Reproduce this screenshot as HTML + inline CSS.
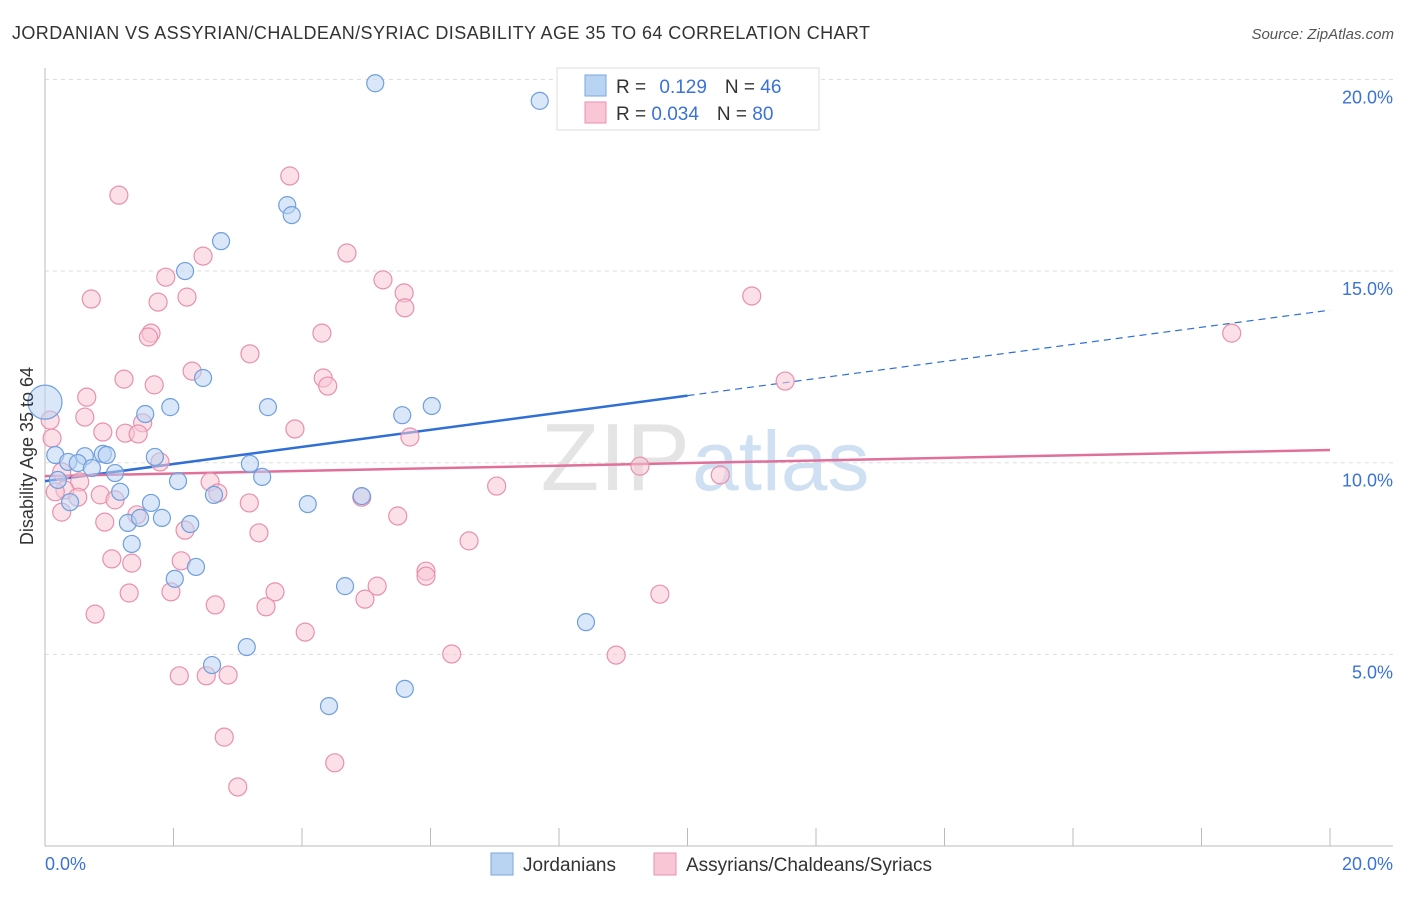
<!DOCTYPE html>
<html><head><meta charset="utf-8"><style>
body{margin:0;background:#fff;font-family:"Liberation Sans",sans-serif}
svg text{font-family:"Liberation Sans",sans-serif}
</style></head><body>
<svg id="chart" width="1406" height="892" xmlns="http://www.w3.org/2000/svg">
<text x="12" y="39" font-size="18" fill="#333" textLength="858" lengthAdjust="spacing">JORDANIAN VS ASSYRIAN/CHALDEAN/SYRIAC DISABILITY AGE 35 TO 64 CORRELATION CHART</text>
<text x="1394" y="39" font-size="15" fill="#555" font-style="italic" text-anchor="end">Source: ZipAtlas.com</text>
<text x="690" y="490" font-size="96" fill="#e4e4e4" text-anchor="end" font-family="Liberation Serif">ZIP</text>
<text x="692" y="490" font-size="84" fill="#cfe0f3">atlas</text>
<g id="grid"></g><g id="axes"></g><g id="lines"></g><g id="pts"></g>
<text transform="translate(33,456) rotate(-90)" font-size="18" fill="#333" text-anchor="middle">Disability Age 35 to 64</text>
<text x="45" y="870" font-size="18" fill="#3a72d8">0.0%</text>
<text x="1393" y="870" font-size="18" fill="#3a72d8" text-anchor="end">20.0%</text>
<g>
<rect x="557" y="68" width="262" height="62" fill="#fff" stroke="#ddd"/>
<rect x="585" y="75" width="21" height="21" fill="#b9d3f3" stroke="#7aa7e0"/>
<rect x="585" y="102" width="21" height="21" fill="#f8c6d5" stroke="#e890ae"/>
<text x="616" y="93" font-size="19" fill="#333">R = <tspan fill="#3a72d8" dx="8">0.129</tspan><tspan dx="18">N = </tspan><tspan fill="#3a72d8">46</tspan></text>
<text x="616" y="120" font-size="19" fill="#333">R = <tspan fill="#3a72d8">0.034</tspan><tspan dx="18">N = </tspan><tspan fill="#3a72d8">80</tspan></text>
</g>
<g>
<rect x="491" y="853" width="22" height="22" fill="#b9d3f3" stroke="#7aa7e0"/>
<text x="523" y="871" font-size="19" fill="#333">Jordanians</text>
<rect x="654" y="853" width="22" height="22" fill="#f8c6d5" stroke="#e890ae"/>
<text x="686" y="871" font-size="19" fill="#333">Assyrians/Chaldeans/Syriacs</text>
</g>
</svg>
<script>
const yTicks=[5,10,15,20];
const yTickLabels=["5.0%","10.0%","15.0%","20.0%"];
const xTicks=[0,2,4,6,8,10,12,14,16,18,20];
const blueX=[5.14,7.70,3.77,3.84,2.74,2.18,2.46,1.95,3.47,6.02,5.56,1.56,0.16,0.62,0.90,0.96,0.36,0.51,0.73,1.09,1.71,3.19,3.38,2.07,0.2,1.17,2.63,4.93,0.39,1.65,4.09,1.29,1.48,1.82,2.26,1.35,2.35,2.02,4.67,8.42,3.14,2.6,5.6,4.42];
const blueY=[19.9,19.44,16.72,16.46,15.78,15.0,12.21,11.45,11.45,11.48,11.24,11.27,10.2,10.17,10.23,10.2,10.02,9.99,9.86,9.73,10.15,9.97,9.63,9.52,9.55,9.24,9.16,9.13,8.97,8.95,8.92,8.43,8.56,8.56,8.4,7.88,7.28,6.97,6.78,5.84,5.19,4.72,4.10,3.65];
const bigBlue=[0,11.58];
const pinkX=[1.15,3.81,4.70,2.46,1.88,5.26,0.72,1.76,2.21,5.59,5.60,11.0,18.47,4.31,1.65,1.61,3.19,2.29,1.23,1.70,4.33,4.40,11.52,0.65,0.62,0.08,1.52,0.90,1.25,1.45,3.89,5.68,0.11,1.79,9.26,10.51,0.26,0.54,7.03,2.57,0.31,0.16,0.86,2.69,1.09,0.51,3.18,4.93,0.26,5.49,0.93,1.43,2.18,3.33,6.60,1.04,2.12,1.35,5.93,5.93,5.17,1.96,3.58,1.31,9.57,4.98,3.44,2.65,0.78,4.05,6.33,8.89,2.09,2.51,2.85,2.79,4.51,3.00];
const pinkY=[16.98,17.48,15.47,15.39,14.84,14.77,14.27,14.19,14.32,14.43,14.04,14.35,13.38,13.38,13.38,13.28,12.84,12.39,12.18,12.03,12.21,12.0,12.13,11.71,11.19,11.11,11.04,10.8,10.77,10.75,10.88,10.67,10.64,10.02,9.91,9.68,9.76,9.5,9.39,9.5,9.29,9.24,9.16,9.21,9.03,9.1,8.95,9.1,8.71,8.61,8.45,8.64,8.24,8.17,7.96,7.49,7.44,7.38,7.17,7.04,6.78,6.63,6.63,6.6,6.57,6.44,6.24,6.29,6.05,5.58,5.01,4.98,4.44,4.44,4.46,2.84,2.17,1.54];
const blueTrend=[9.52,13.98];
const pinkTrend=[9.65,10.33];
const blueSolidEnd=10;
const NS="http://www.w3.org/2000/svg";
const sx=v=>45+v*64.25, sy=v=>846-v*38.33;
function mk(tag,attrs,parent){const e=document.createElementNS(NS,tag);for(const k in attrs)e.setAttribute(k,attrs[k]);document.getElementById(parent).appendChild(e);return e;}
yTicks.forEach((t,i)=>{
 const g=mk('line',{x1:45,x2:1393,y1:sy(t),y2:sy(t),stroke:'#ddd','stroke-dasharray':'4,4'},'grid');
 
 
 const l=mk('text',{x:1393,y:sy(t)+24,'font-size':18,fill:'#3a72d8','text-anchor':'end'},'grid');
 l.textContent=yTickLabels[i];
 
 
});
const ya=mk('line',{x1:45,x2:45,y1:68,y2:846,stroke:'#bbb'},'axes');


const xa=mk('line',{x1:45,x2:1393,y1:846,y2:846,stroke:'#bbb'},'axes');


xTicks.forEach(t=>{
 const e=mk('line',{x1:sx(t),x2:sx(t),y1:828,y2:846,stroke:'#bbb'},'axes');
 
 
});
const ty=(tr,x)=>tr[0]+(tr[1]-tr[0])*x/20;
function pt(x,y,r,f,s,name){const c=mk('circle',{cx:sx(x),cy:sy(y),r:r,fill:f,'fill-opacity':0.55,stroke:s,'stroke-width':1.2},'pts');
 
 }
pinkX.forEach((x,i)=>pt(x,pinkY[i],9,'#f8c6d5','#e890ae','assyrian-point'));
blueX.forEach((x,i)=>pt(x,blueY[i],8.5,'#b9d3f3','#6f9fdd','jordanian-point'));
pt(bigBlue[0],bigBlue[1],17,'#b9d3f3','#6f9fdd','jordanian-point');
let e=mk('line',{x1:sx(0),y1:sy(ty(blueTrend,0)),x2:sx(blueSolidEnd),y2:sy(ty(blueTrend,blueSolidEnd)),stroke:'#2f6fd6','stroke-width':2.5},'lines');


e=mk('line',{x1:sx(blueSolidEnd),y1:sy(ty(blueTrend,blueSolidEnd)),x2:sx(20),y2:sy(ty(blueTrend,20)),stroke:'#2f6fd6','stroke-width':1.2,'stroke-dasharray':'7,5'},'lines');


e=mk('line',{x1:sx(0),y1:sy(ty(pinkTrend,0)),x2:sx(20),y2:sy(ty(pinkTrend,20)),stroke:'#e0709a','stroke-width':2.5},'lines');


</script>
</body></html>
